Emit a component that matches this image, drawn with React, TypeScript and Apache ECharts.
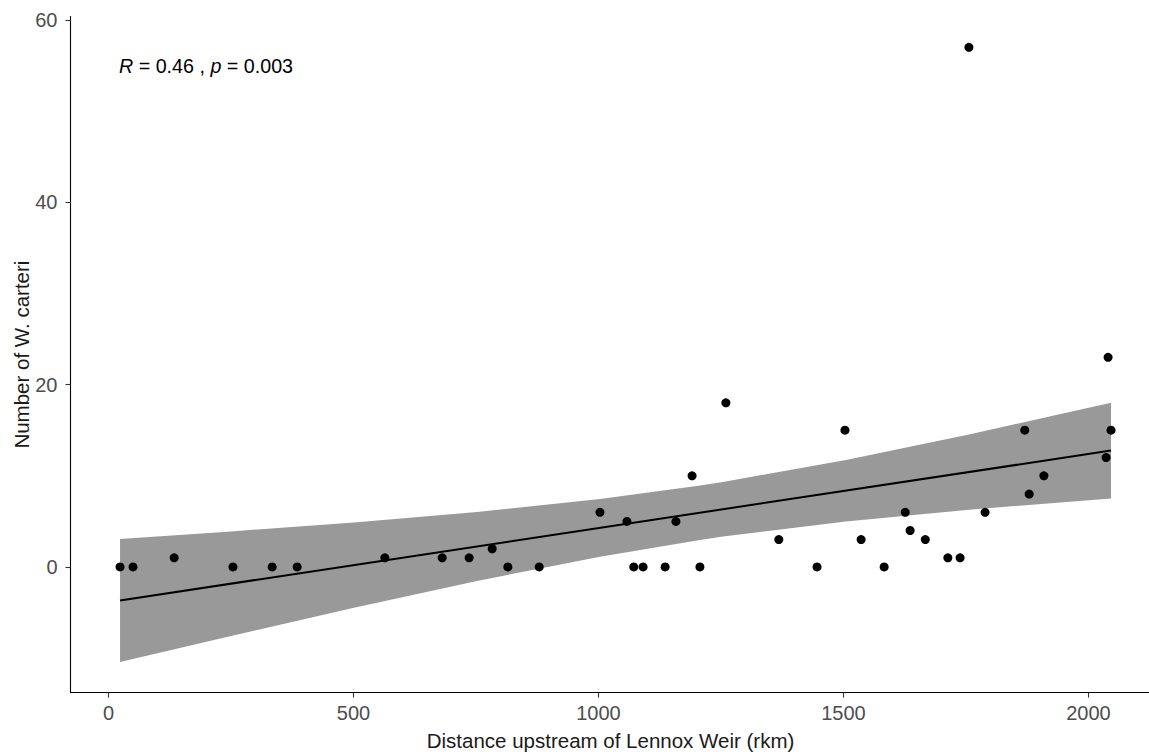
import React, { useEffect, useRef } from "react";
import * as echarts from "echarts";

// Observed points: distance upstream (rkm) and number of W. carteri
const distances = [
  23.5, 50, 134, 254, 334, 385, 564, 681, 736, 783, 815, 879, 1003, 1058, 1072,
  1091, 1136, 1158, 1191, 1207, 1260, 1368, 1446, 1503, 1536, 1583, 1626, 1636,
  1667, 1713, 1738, 1756, 1789, 1870, 1879, 1909, 2036, 2040, 2046,
];
const counts = [
  0, 0, 1, 0, 0, 0, 1, 1, 1, 2, 0, 0, 6, 5, 0, 0, 0, 5, 10, 0, 18, 3, 0, 15, 3,
  0, 6, 4, 3, 1, 1, 57, 6, 15, 8, 10, 12, 23, 15,
];

// Fitted line and its confidence band
const fitX = [23.5, 2046];
const fitY = [-3.67, 12.77];
const bandX = [23.5, 250, 501, 752, 1003, 1204, 1254, 1505, 1756, 2046];
const bandLower = [-10.41, -7.56, -4.47, -1.53, 1.13, 2.93, 3.33, 5.0, 6.29, 7.52];
const bandUpper = [3.07, 3.9, 4.89, 6.03, 7.45, 8.91, 9.33, 11.74, 14.53, 18.02];

const xTicks = [0, 500, 1000, 1500, 2000];
const yTicks = [0, 20, 40, 60];

const FONT = "'Liberation Sans', Arial, sans-serif";

export default function App() {
  const ref = useRef<HTMLDivElement>(null);

  useEffect(() => {
    if (!ref.current) return;
    const chart = echarts.init(ref.current, undefined, { renderer: "svg" });
    const axisLine = { show: true, onZero: false, lineStyle: { color: "#000", width: 1.1 } };
    const axisTick = { show: true, length: 5, lineStyle: { color: "#333", width: 1.1 } };

    chart.setOption({
      animation: false,
      backgroundColor: "#fff",
      textStyle: { fontFamily: FONT },
      grid: {
        left: 70.5,
        top: 16.6,
        width: 1090,
        height: 676,
        containLabel: false,
        outerBoundsMode: "none",
      },
      xAxis: {
        type: "value",
        min: -77.6,
        max: 2147,
        splitLine: { show: false },
        axisLine,
        axisTick: { ...axisTick, customValues: xTicks },
        axisLabel: {
          customValues: xTicks,
          formatter: (v: number) => String(v),
          color: "#4d4d4d",
          fontSize: 20,
          fontFamily: FONT,
          margin: 10,
        },
        name: "Distance upstream of Lennox Weir (rkm)",
        nameLocation: "middle",
        nameGap: 37,
        nameMoveOverlap: false,
        nameTextStyle: {
          color: "#1a1a1a",
          fontSize: 20.5,
          fontFamily: FONT,
          padding: [0, 10, 0, 0],
        },
      },
      yAxis: {
        type: "value",
        min: -13.78,
        max: 60.37,
        splitLine: { show: false },
        axisLine,
        axisTick: { ...axisTick, customValues: yTicks },
        axisLabel: {
          customValues: yTicks,
          formatter: (v: number) => String(v),
          color: "#4d4d4d",
          fontSize: 20,
          fontFamily: FONT,
          margin: 13,
        },
        name: "Number of W. carteri",
        nameLocation: "middle",
        nameGap: 39,
        nameMoveOverlap: false,
        nameTextStyle: { color: "#1a1a1a", fontSize: 20.5, fontFamily: FONT },
      },
      graphic: [
        {
          type: "text",
          left: 119,
          top: 56,
          style: {
            text: "{i|R} = 0.46 , {i|p} = 0.003",
            fill: "#000",
            font: `19.7px ${FONT}`,
            rich: {
              i: { fontStyle: "italic", fontSize: 19.7, fontFamily: FONT, fill: "#000" },
            },
          },
        },
      ],
      series: [
        {
          type: "custom",
          silent: true,
          z: 1,
          data: bandX.map((x, i) => [x, bandLower[i], bandUpper[i]]),
          encode: { x: 0, y: [1, 2] },
          renderItem: (params: any, api: any) => {
            if (params.dataIndex !== 0) return null;
            const pts: number[][] = [];
            for (let i = 0; i < bandX.length; i++) pts.push(api.coord([bandX[i], bandUpper[i]]));
            for (let i = bandX.length - 1; i >= 0; i--) pts.push(api.coord([bandX[i], bandLower[i]]));
            return { type: "polygon", shape: { points: pts }, style: { fill: "#999999" } };
          },
        },
        {
          type: "line",
          silent: true,
          z: 2,
          symbol: "none",
          data: fitX.map((x, i) => [x, fitY[i]]),
          lineStyle: { color: "#000", width: 2 },
        },
        {
          type: "scatter",
          z: 3,
          symbol: "circle",
          symbolSize: 9,
          data: distances.map((x, i) => [x, counts[i]]),
          itemStyle: { color: "#000", opacity: 1 },
        },
      ],
    });
    return () => chart.dispose();
  }, []);

  return (
    <div
      ref={ref}
      style={{ position: "fixed", left: 0, top: 0, width: 1149, height: 755, background: "#fff" }}
    />
  );
}
